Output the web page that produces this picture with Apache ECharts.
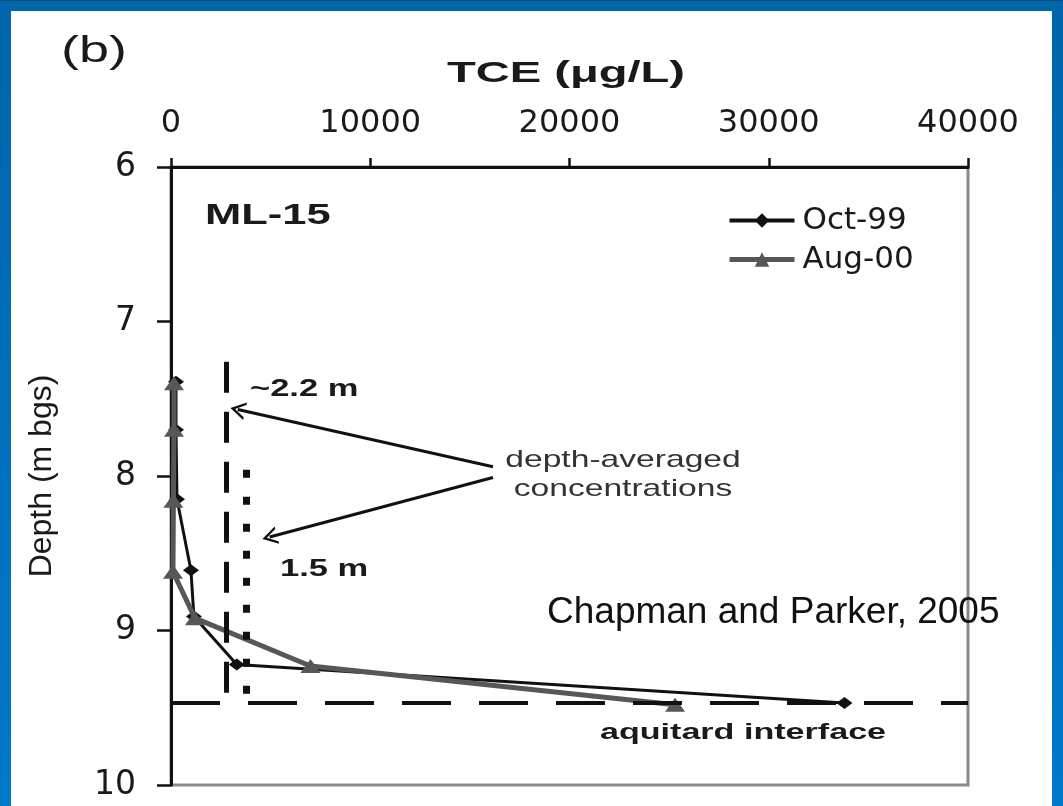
<!DOCTYPE html>
<html>
<head>
<meta charset="utf-8">
<script src="https://cdn.jsdelivr.net/npm/echarts@6.0.0/dist/echarts.min.js"></script>
<style>
  html, body { margin: 0; padding: 0; }
  body {
    width: 1063px; height: 806px; position: relative; overflow: hidden;
    background: linear-gradient(to bottom, #0c4c80 0, #0c4c80 1px, #0065ab 1px, #0079c9 100%);
  }
  #chart { position: absolute; left: 11px; top: 11px; width: 1041px; height: 795px; background: #fff; }
</style>
</head>
<body>
<div id="chart"></div>
<script>
// TCE profiles at ML-15 (depth in m bgs, concentration in ug/L)
const seriesNames = ['Oct-99', 'Aug-00'];
const depthOct99 = [7.39, 7.70, 8.15, 8.61, 8.91, 9.22, 9.47];
const tceOct99 = [250, 250, 300, 1000, 1150, 3300, 33800];
const depthAug00 = [7.40, 7.70, 8.16, 8.62, 8.92, 9.23, 9.48];
const tceAug00 = [150, 150, 120, 100, 1200, 7000, 25300];

const xTicks = [0, 10000, 20000, 30000, 40000];
const yTicks = [6, 7, 8, 9, 10];

// depth-averaged concentrations and the aquitard interface
const avg22 = 2760;           // ~2.2 m interval
const avg22Depths = [7.26, 9.47];
const avg15 = 3760;           // 1.5 m interval
const avg15Depths = [7.96, 9.42];
const aquitardDepth = 9.47;
const aquitardExtent = [0, 40000];
const arrowTail = [16160, 7.94, 16160, 8.01];
const arrowHeads = [3350, 7.57, 4950, 8.395];

const axisFont = '"DejaVu Sans", sans-serif';
const chevron = 'path://M10,0 L20,16 L17,16 L10,5 L3,16 L0,16 Z';

const chart = echarts.init(document.getElementById('chart'));

function label(text, x, y, size, opts) {
  return {
    type: 'text', x: x, y: y, scaleX: 1.5, z: 50,
    style: Object.assign({
      text: text, fontSize: size, fontFamily: '"Liberation Sans", Arial, sans-serif',
      fill: '#1a1a1a', align: 'left', verticalAlign: 'middle'
    }, opts || {})
  };
}

const option = {
  animation: false,
  backgroundColor: '#fff',
  grid: {
    left: 160, top: 156, right: 84, bottom: 21,
    show: true, borderColor: '#8a8a8a', borderWidth: 3
  },
  legend: {
    data: [
      { name: seriesNames[0], lineStyle: { width: 4, color: '#111' } },
      { name: seriesNames[1], lineStyle: { width: 5, color: '#575757' } }
    ],
    orient: 'vertical',
    left: 711, top: 189,
    itemWidth: 65, itemHeight: 18, itemGap: 8,
    textStyle: { fontFamily: axisFont, fontSize: 31, color: '#1a1a1a', padding: [0, 0, 0, 3] }
  },
  xAxis: {
    type: 'value',
    position: 'top',
    min: xTicks[0], max: xTicks[xTicks.length - 1], interval: xTicks[1] - xTicks[0],
    axisLine: { lineStyle: { color: '#111', width: 3 } },
    axisTick: { length: 9, lineStyle: { color: '#111', width: 2.5 } },
    axisLabel: { margin: 27, fontFamily: axisFont, fontSize: 32, color: '#1a1a1a', formatter: v => String(v) },
    splitLine: { show: false }
  },
  yAxis: {
    type: 'value',
    inverse: true,
    min: yTicks[0], max: yTicks[yTicks.length - 1], interval: yTicks[1] - yTicks[0],
    name: 'Depth (m bgs)',
    nameLocation: 'middle',
    nameGap: 113,
    nameTextStyle: { fontFamily: '"Liberation Sans", Arial, sans-serif', fontSize: 32, color: '#1a1a1a' },
    axisLine: { lineStyle: { color: '#111', width: 3 } },
    axisTick: { length: 14, lineStyle: { color: '#111', width: 2.5 } },
    axisLabel: { margin: 35, fontFamily: axisFont, fontSize: 33, color: '#1a1a1a' },
    splitLine: { show: false }
  },
  graphic: [
    label('(b)', 50, 41, 36),
    Object.assign(label('TCE (\u03bcg/L)', 555, 63, 30, { fontWeight: 'bold', align: 'center' }), { scaleX: 1.57 }),
    label('ML-15', 194, 205, 29, { fontWeight: 'bold' }),
    label('~2.2 m', 239, 379, 23, { fontWeight: 'bold' }),
    label('1.5 m', 269, 559, 23, { fontWeight: 'bold' }),
    Object.assign(label('depth-averaged\nconcentrations', 612, 464, 24, { align: 'center', lineHeight: 29, fill: '#333' }), { scaleX: 1.4 }),
    Object.assign(label('aquitard interface', 732, 722, 22, { fontWeight: 'bold', align: 'center' }), { scaleX: 1.55 }),
    Object.assign(label('Chapman and Parker, 2005', 536, 602, 37, { fill: '#111' }), { scaleX: 1 })
  ],
  series: [
    {
      name: 'annotations',
      type: 'line',
      data: [],
      z: 1,
      clip: false,
      markLine: {
        silent: true,
        symbol: ['none', 'none'],
        label: { show: false },
        data: [
          [
            { coord: [avg22, avg22Depths[0]], lineStyle: { color: '#111', width: 5, type: [31, 19] } },
            { coord: [avg22, avg22Depths[1]] }
          ],
          [
            { coord: [avg15, avg15Depths[0]], lineStyle: { color: '#111', width: 7, type: [8, 19] } },
            { coord: [avg15, avg15Depths[1]] }
          ],
          [
            { coord: [aquitardExtent[0], aquitardDepth], lineStyle: { color: '#111', width: 4, type: [49, 28] } },
            { coord: [aquitardExtent[1], aquitardDepth] }
          ],
          [
            { coord: [arrowTail[0], arrowTail[1]], lineStyle: { color: '#111', width: 3, type: 'solid' } },
            { coord: [arrowHeads[0], arrowHeads[1]], symbol: chevron, symbolSize: [18, 15] }
          ],
          [
            { coord: [arrowTail[2], arrowTail[3]], lineStyle: { color: '#111', width: 3, type: 'solid' } },
            { coord: [arrowHeads[2], arrowHeads[3]], symbol: chevron, symbolSize: [18, 15] }
          ]
        ]
      }
    },
    {
      name: seriesNames[0],
      type: 'line',
      z: 3,
      data: depthOct99.map((d, i) => [tceOct99[i], d]),
      symbol: 'diamond',
      symbolSize: [16, 12],
      lineStyle: { color: '#111', width: 3 },
      itemStyle: { color: '#111' }
    },
    {
      name: seriesNames[1],
      type: 'line',
      z: 4,
      data: depthAug00.map((d, i) => [tceAug00[i], d]),
      symbol: 'triangle',
      symbolSize: [20, 14],
      lineStyle: { color: '#575757', width: 5 },
      itemStyle: { color: '#575757' }
    }
  ]
};

chart.setOption(option);
</script>
</body>
</html>
